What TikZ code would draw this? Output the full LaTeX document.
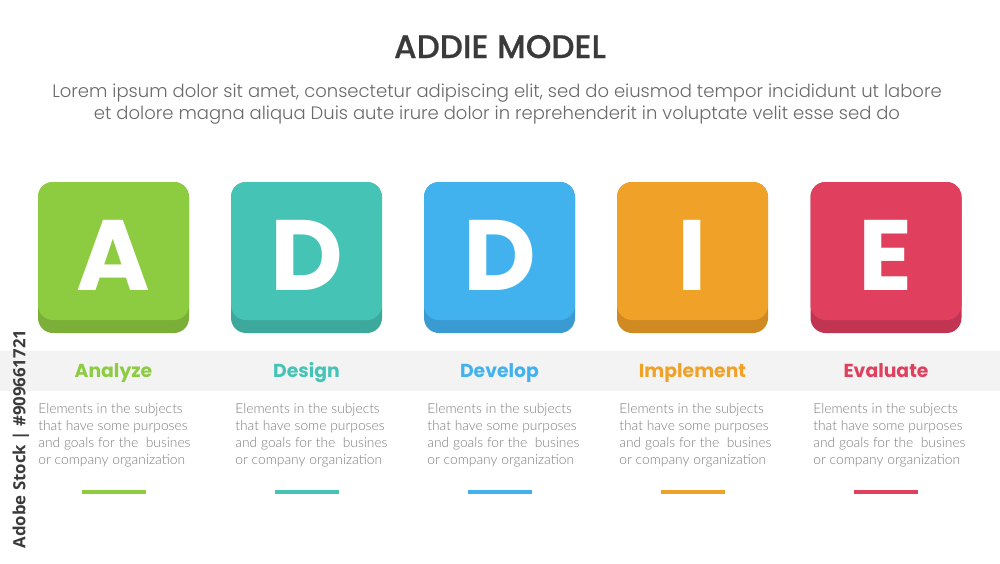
\documentclass[tikz,border=0pt]{standalone}
\usepackage{fontspec}
\setmainfont{Poppins}
\newfontfamily\pop{Poppins}
\newfontfamily\popmid{Poppins Medium}[FakeBold=0.6]
\newfontfamily\poplight{Poppins Light}
\newfontfamily\lato{Lato Light}
\newfontfamily\opens{Open Sans}
\definecolor{cA}{HTML}{8DCB41}\definecolor{dA}{HTML}{7BAF38}
\definecolor{cB}{HTML}{45C3B5}\definecolor{dB}{HTML}{3CA99C}
\definecolor{cC}{HTML}{41B2EE}\definecolor{dC}{HTML}{3A9BD2}
\definecolor{cD}{HTML}{F0A127}\definecolor{dD}{HTML}{D08A22}
\definecolor{cE}{HTML}{E0405E}\definecolor{dE}{HTML}{C13552}
\definecolor{band}{HTML}{F3F3F3}
\definecolor{titlec}{HTML}{3A3A3A}
\definecolor{subc}{HTML}{6A6A6A}
\definecolor{bodyc}{HTML}{7E7E7E}
\tikzset{
  letterbox/.style={minimum width=75.5pt, minimum height=75.5pt, rounded corners=7.5pt, inner sep=0pt},
  letterfont/.style={font=\pop\bfseries\fontsize{50}{50}\selectfont, text=white, inner sep=0pt, anchor=base},
  stagelabel/.style={font=\pop\bfseries\fontsize{9.4}{10}\selectfont, inner sep=0pt, anchor=base},
  bodyline/.style={font=\lato\fontsize{6.9}{8}\selectfont, text=bodyc, inner sep=0pt, anchor=base west},
  subline/.style={font=\poplight\fontsize{9}{10}\selectfont, text=subc, inner sep=0pt, anchor=base},
  underbar/.style={line width=2pt},
}
\begin{document}
\begin{tikzpicture}[x=0.5pt,y=-0.5pt]
\useasboundingbox (0,0) rectangle (1000,563);
\fill[white] (0,0) rectangle (1000,563);
\fill[band] (0,351) rectangle (1000,391);
\node[font=\popmid\fontsize{16.3}{17}\selectfont, text=titlec, inner sep=0pt, anchor=base] (title) at (500,58) {ADDIE MODEL};
\node[subline] (sub1) at (497,97) {Lorem ipsum dolor sit amet, consectetur adipiscing elit, sed do eiusmod tempor incididunt ut labore};
\node[subline] (sub2) at (497,119) {et dolore magna aliqua Duis aute irure dolor in reprehenderit in voluptate velit esse sed do};
\foreach \k/\cx/\tx/\L/\lab/\c/\d in {1/113.5/38/A/Analyze/cA/dA, 2/306.5/235/D/Design/cB/dB, 3/499.5/427/D/Develop/cC/dC, 4/692.5/619/I/Implement/cD/dD, 5/886/813/E/Evaluate/cE/dE}{
  \node[letterbox, fill=\d, path picture={\fill[\c] (path picture bounding box.north west) rectangle ([yshift=6.5pt]path picture bounding box.south east);}] (box\k) at (\cx,257.5) {};
  \node[letterfont] (let\k) at (\cx,290) {\L};
  \node[stagelabel, text=\c] (lab\k) at (\cx,377) {\lab};
  \node[bodyline] (b\k a) at (\tx,413) {Elements in the subjects};
  \node[bodyline] (b\k b) at (\tx,430) {that have some purposes};
  \node[bodyline] (b\k c) at (\tx,447) {and goals for the\ \ busines};
  \node[bodyline] (b\k d) at (\tx,464) {or company organization};
  \coordinate (ul\k) at (\cx-32,492);
  \coordinate (ur\k) at (\cx+32,492);
  \draw[underbar, \c] (ul\k) -- (ur\k);
}
\node[font=\opens\bfseries\fontsize{8.4}{9}\selectfont, text=titlec, rotate=90, inner sep=0pt] (wm) at (21,439) {Adobe Stock | \#909661721};
\end{tikzpicture}
\end{document}
